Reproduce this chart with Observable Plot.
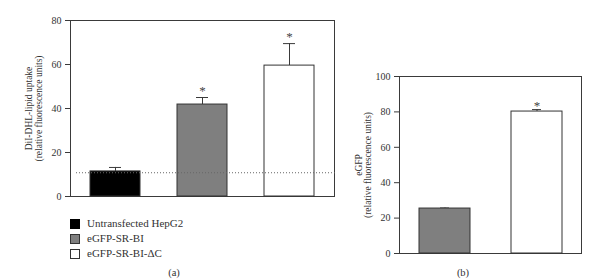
<!DOCTYPE html>
<html>
<head>
<meta charset="utf-8">
<script src="https://cdn.jsdelivr.net/npm/d3@7"></script>
<script src="https://cdn.jsdelivr.net/npm/@observablehq/plot@0.6"></script>
<style>
  html, body { margin: 0; padding: 0; background: #fff; }
  #wrap { position: relative; width: 609px; height: 280px; font-family: "Liberation Serif", "DejaVu Serif", serif; color: #333; overflow: hidden; }
  #wrap svg { position: absolute; background: transparent; }
  .legend { position: absolute; left: 70px; top: 216px; font-size: 11px; line-height: 15px; }
  .legend div { display: flex; align-items: center; height: 15px; }
  .legend span.sw { display: inline-block; width: 8px; height: 8px; border: 1px solid #333; margin-right: 7px; }
  .cap { position: absolute; font-size: 10.5px; transform: translate(-50%, -50%); }
</style>
</head>
<body>
<div id="wrap"></div>
<script>
// Panel (a): DiI-DHL-lipid uptake
const catsA = ["Untransfected HepG2", "eGFP-SR-BI", "eGFP-SR-BI-ΔC"];
const meanA = [11.4, 41.8, 59.5];
const errA = [1.8, 3.2, 10.0];
const sigA = ["", "*", "*"];
const baselineA = 10.8;
const ticksA = [0, 20, 40, 60, 80];

// Panel (b): eGFP
const catsB = ["eGFP-SR-BI", "eGFP-SR-BI-ΔC"];
const meanB = [25.4, 80.2];
const errB = [0.3, 1.1];
const sigB = ["", "*"];
const ticksB = [0, 20, 40, 60, 80, 100];

const fillOf = {"Untransfected HepG2": "#000000", "eGFP-SR-BI": "#7f7f7f", "eGFP-SR-BI-ΔC": "#ffffff"};

const rowsA = catsA.map((c, i) => ({cat: c, v: meanA[i], hi: meanA[i] + errA[i], sig: sigA[i]}));
const rowsB = catsB.map((c, i) => ({cat: c, v: meanB[i], hi: meanB[i] + errB[i], sig: sigB[i]}));

const ink = "#3a3a3a";
const font = "Liberation Serif, DejaVu Serif, serif";

const plotA = Plot.plot({
  width: 345, height: 205,
  marginLeft: 70, marginRight: 11, marginTop: 20, marginBottom: 9,
  style: {fontFamily: font, fontSize: "10px", color: "#333", background: "transparent"},
  x: {domain: catsA, axis: null, paddingInner: 0.43, paddingOuter: 0.22},
  y: {domain: [0, 80]},
  marks: [
    Plot.frame({stroke: ink, strokeWidth: 1}),
    Plot.ruleX(rowsA, {x: "cat", y1: "v", y2: "hi", stroke: ink, strokeWidth: 1}),
    Plot.tickY(rowsA, {x: "cat", y: "hi", stroke: ink, strokeWidth: 1, inset: 19}),
    Plot.barY(rowsA, {x: "cat", y: "v", fill: d => fillOf[d.cat], stroke: "#333", strokeWidth: 1}),
    Plot.ruleY([baselineA], {stroke: "#666", strokeWidth: 1, strokeDasharray: "1,2", insetLeft: 6, insetRight: -3}),
    Plot.text(rowsA, {x: "cat", y: "hi", text: "sig", fontSize: 13, dy: -7, fill: "#444"}),
    Plot.axisY({ticks: ticksA, tickSize: 5, tickPadding: 4, label: null, stroke: ink}),
    Plot.text(["DiI-DHL-lipid uptake\n(relative fluorescence units)"], {frameAnchor: "left", textAnchor: "middle", lineAnchor: "middle", dx: -37, rotate: -90, fontSize: 9.5, lineHeight: 1.05, fill: "#333"})
  ]
});
plotA.style.left = "0px"; plotA.style.top = "0px";

const plotB = Plot.plot({
  width: 279, height: 260,
  marginLeft: 69, marginRight: 28, marginTop: 76, marginBottom: 7,
  style: {fontFamily: font, fontSize: "10px", color: "#333", background: "transparent"},
  x: {domain: catsB, axis: null, paddingInner: 0.446, paddingOuter: 0.212},
  y: {domain: [0, 100]},
  marks: [
    Plot.frame({stroke: ink, strokeWidth: 1}),
    Plot.ruleX(rowsB, {x: "cat", y1: "v", y2: "hi", stroke: ink, strokeWidth: 1}),
    Plot.tickY(rowsB, {x: "cat", y: "hi", stroke: ink, strokeWidth: 1, inset: 21}),
    Plot.barY(rowsB, {x: "cat", y: "v", fill: d => fillOf[d.cat], stroke: "#333", strokeWidth: 1}),
    Plot.text(rowsB, {x: "cat", y: "hi", text: "sig", fontSize: 13, dy: -4, fill: "#444"}),
    Plot.axisY({ticks: ticksB, tickSize: 5, tickPadding: 4, label: null, stroke: ink}),
    Plot.text(["eGFP\n(relative fluorescence units)"], {frameAnchor: "left", textAnchor: "middle", lineAnchor: "middle", dx: -36, rotate: -90, fontSize: 9.5, lineHeight: 0.9, fill: "#333"})
  ]
});
plotB.style.left = "330px"; plotB.style.top = "0px";

const wrap = document.getElementById("wrap");
wrap.appendChild(plotA);
wrap.appendChild(plotB);

// Legend for panel (a)
const legend = document.createElement("div");
legend.className = "legend";
catsA.forEach(c => {
  const row = document.createElement("div");
  const sw = document.createElement("span");
  sw.className = "sw";
  sw.style.background = fillOf[c];
  if (fillOf[c] === "#000000") sw.style.borderColor = "#000";
  row.appendChild(sw);
  row.appendChild(document.createTextNode(c));
  legend.appendChild(row);
});
wrap.appendChild(legend);

// Panel captions
[["(a)", 174, 272], ["(b)", 463, 272]].forEach(([t, x, y]) => {
  const el = document.createElement("div");
  el.className = "cap";
  el.style.left = x + "px"; el.style.top = y + "px";
  el.textContent = t;
  wrap.appendChild(el);
});
</script>
</body>
</html>
